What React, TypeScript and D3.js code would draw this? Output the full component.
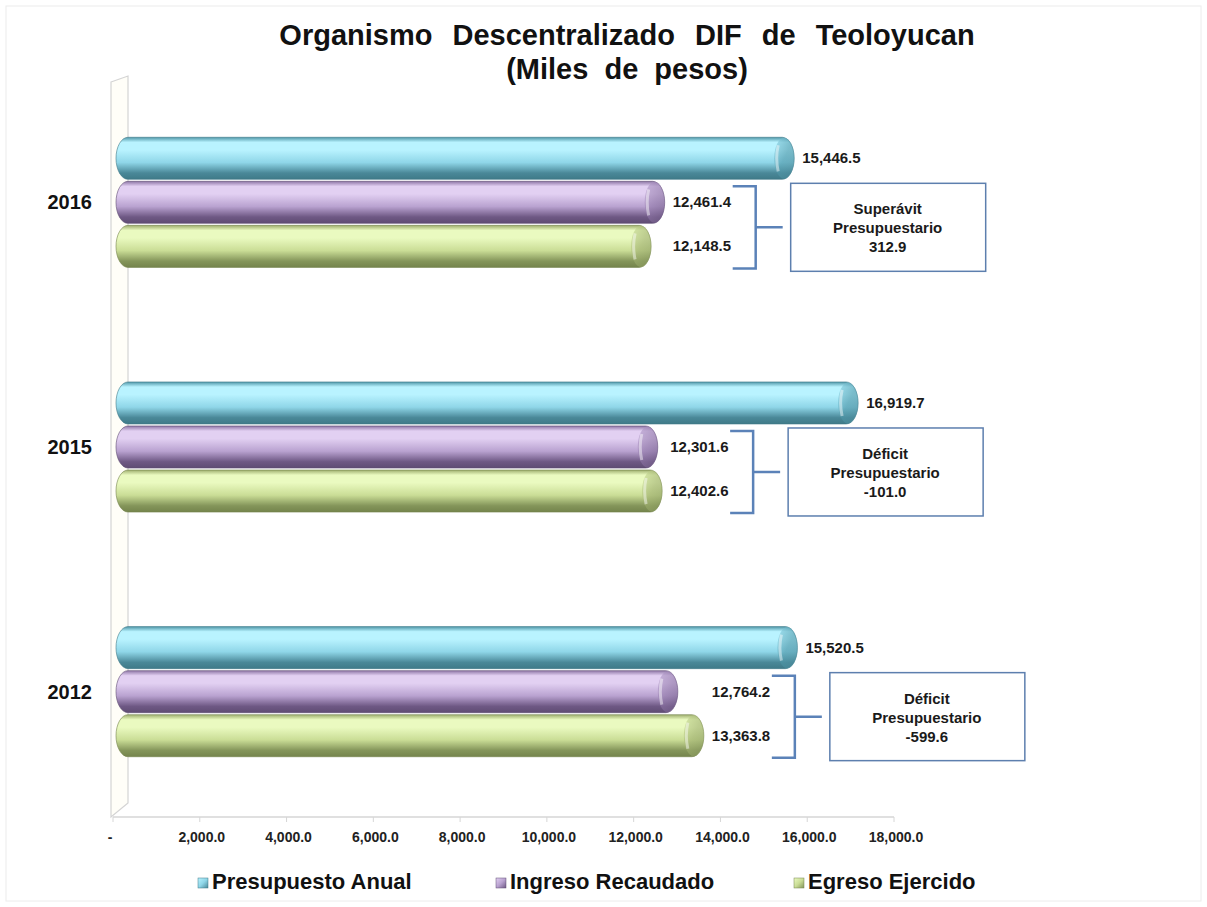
import React from 'react'
import * as d3 from 'd3'

const years = ['2016', '2015', '2012']
const series = ['Presupuesto Anual', 'Ingreso Recaudado', 'Egreso Ejercido']
const presupuesto = [15446.5, 16919.7, 15520.5]
const ingreso = [12461.4, 12301.6, 12764.2]
const egreso = [12148.5, 12402.6, 13363.8]
const balanceTitle = ['Superávit', 'Déficit', 'Déficit']
const balanceValue = ['312.9', '-101.0', '-599.6']
const xTicks = [0, 2000, 4000, 6000, 8000, 10000, 12000, 14000, 16000, 18000]

const W = 1207
const H = 907
const FONT = '"Liberation Sans", Arial, sans-serif'

// top highlight, mid, bottom shade, outline
const palettes = [
  { edge: '#4f97a8', hi: '#b9f3ff', mid: '#8fd6e8', lo: '#4a8898', line: '#3f7a88' },
  { edge: '#8e76a6', hi: '#e2d0f2', mid: '#b9a2d0', lo: '#6e5884', line: '#5f4c73' },
  { edge: '#9eae6e', hi: '#eafac0', mid: '#cadd96', lo: '#84955a', line: '#74844c' },
]

export default function App() {
  const x = d3.scaleLinear().domain([0, 18000]).range([113, 894])
  const y = d3.scaleBand().domain(years).range([80, 814]).paddingInner(0.46).paddingOuter(0.23)
  const ys = d3.scaleBand().domain(series).range([0, y.bandwidth()])
  const fmt = d3.format(',.1f')
  const values = [presupuesto, ingreso, egreso]
  const depth = 11
  const x0 = 116
  const legendX = d3.scaleBand().domain(series).range([198, 198 + 3 * 298])

  return (
    <svg width={W} height={H} style={{ position: 'absolute', left: 0, top: 0, background: '#fff' }}>
      <defs>
        {palettes.map((p, i) => (
          <linearGradient key={i} id={'bar' + i} x1="0" y1="0" x2="0" y2="1">
            <stop offset="0" stopColor={p.edge} />
            <stop offset="0.12" stopColor={p.hi} />
            <stop offset="0.3" stopColor={p.hi} />
            <stop offset="0.6" stopColor={p.mid} />
            <stop offset="0.85" stopColor={p.lo} />
            <stop offset="1" stopColor={p.line} />
          </linearGradient>
        ))}
        {palettes.map((p, i) => (
          <linearGradient key={i} id={'cap' + i} x1="0" y1="0" x2="1" y2="1">
            <stop offset="0" stopColor={p.mid} />
            <stop offset="0.5" stopColor={p.edge} />
            <stop offset="1" stopColor={p.lo} />
          </linearGradient>
        ))}
        {palettes.map((p, i) => (
          <linearGradient key={i} id={'leg' + i} x1="0" y1="0" x2="1" y2="1">
            <stop offset="0" stopColor={p.hi} />
            <stop offset="0.5" stopColor={p.mid} />
            <stop offset="1" stopColor={p.lo} />
          </linearGradient>
        ))}
      </defs>

      <rect x={6} y={6} width={W - 12} height={H - 12} fill="none" stroke="#ececec" />

      {/* title */}
      <text x={627} y={45} textAnchor="middle" fontFamily={FONT} fontWeight="bold" fontSize={29} wordSpacing={12} fill="#111">
        Organismo Descentralizado DIF de Teoloyucan
      </text>
      <text x={627} y={79} textAnchor="middle" fontFamily={FONT} fontWeight="bold" fontSize={29} wordSpacing={8} fill="#111">
        (Miles de pesos)
      </text>

      {/* left wall */}
      <path d="M111,82 L128,76 L128,803 L111,817 Z" fill="#fffef8" stroke="#d4d4d4" strokeWidth={1.2} />

      {/* axis */}
      <line x1={x(0)} x2={x(18000)} y1={817} y2={817} stroke="#d6d6d6" strokeWidth={1.5} />
      {xTicks.map(t => (
        <g key={t}>
          <line x1={x(t)} x2={x(t)} y1={817} y2={822} stroke="#d6d6d6" />
          <text x={t === 0 ? x(t) - 3 : x(t) + 2} y={842} textAnchor="middle" fontFamily={FONT} fontWeight="bold" fontSize={14} fill="#222">
            {t === 0 ? '-' : fmt(t)}
          </text>
        </g>
      ))}

      {years.map((yr, gi) => {
        const top = y(yr)!
        const ends = values.map(v => x(v[gi]) + depth)
        const lowX = Math.max(ends[1], ends[2]) + 8
        const pTop = top + ys(series[1])!
        const gBot = top + ys(series[2])! + ys.bandwidth()
        const bx = lowX + 60
        const vx = bx + 23
        const bTop = pTop + 6
        const bBot = gBot
        const bMid = (bTop + bBot) / 2
        const boxX = vx + 35
        const boxTop = pTop + 3
        const boxH = 88
        const boxCx = boxX + 97
        const boxCy = boxTop + boxH / 2
        return (
          <g key={yr}>
            <text x={92} y={top + y.bandwidth() / 2 + 7} textAnchor="end" fontFamily={FONT} fontWeight="bold" fontSize={20} fill="#111">
              {yr}
            </text>
            {series.map((s, si) => {
              const by = top + ys(s)! + 1
              const bh = ys.bandwidth() - 2
              const end = ends[si]
              const p = palettes[si]
              return (
                <g key={s}>
                  <rect x={x0} y={by} width={end - x0} height={bh} rx={12} ry={bh / 2}
                    fill={`url(#bar${si})`} stroke={p.line} strokeOpacity={0.6} strokeWidth={1} />
                  <ellipse cx={end - 10} cy={by + bh / 2} rx={10} ry={bh / 2 - 0.5} fill={`url(#cap${si})`} opacity={0.6} />
                  <path d={`M${end - 16},${by + 8} Q${end - 19},${by + bh / 2} ${end - 16},${by + bh - 8}`}
                    fill="none" stroke="#ffffff" strokeOpacity={0.45} strokeWidth={3} />
                  <text x={si === 0 ? end + 8 : lowX} y={by + bh / 2 + 5} fontFamily={FONT} fontWeight="bold" fontSize={15} fill="#1a1a1a">
                    {fmt(values[si][gi])}
                  </text>
                </g>
              )
            })}
            {/* bracket */}
            <path d={`M${bx},${bTop} L${vx},${bTop} L${vx},${bBot} L${bx},${bBot} M${vx},${bMid} L${vx + 27},${bMid}`}
              fill="none" stroke="#5b82b8" strokeWidth={2.5} />
            <rect x={boxX} y={boxTop} width={195} height={boxH} fill="#fff" stroke="#5d7fae" strokeWidth={1.5} />
            <text textAnchor="middle" fontFamily={FONT} fontWeight="bold" fontSize={15} fill="#1a1a1a">
              <tspan x={boxCx} y={boxCy - 13}>{balanceTitle[gi]}</tspan>
              <tspan x={boxCx} y={boxCy + 6}>Presupuestario</tspan>
              <tspan x={boxCx} y={boxCy + 25}>{balanceValue[gi]}</tspan>
            </text>
          </g>
        )
      })}

      {/* legend */}
      {series.map((s, i) => (
        <g key={s}>
          <rect x={legendX(s)!} y={878} width={10} height={10} fill={`url(#leg${i})`} stroke={palettes[i].line} strokeWidth={0.5} />
          <text x={legendX(s)! + 14} y={889} fontFamily={FONT} fontWeight="bold" fontSize={22} fill="#111">
            {s}
          </text>
        </g>
      ))}
    </svg>
  )
}
